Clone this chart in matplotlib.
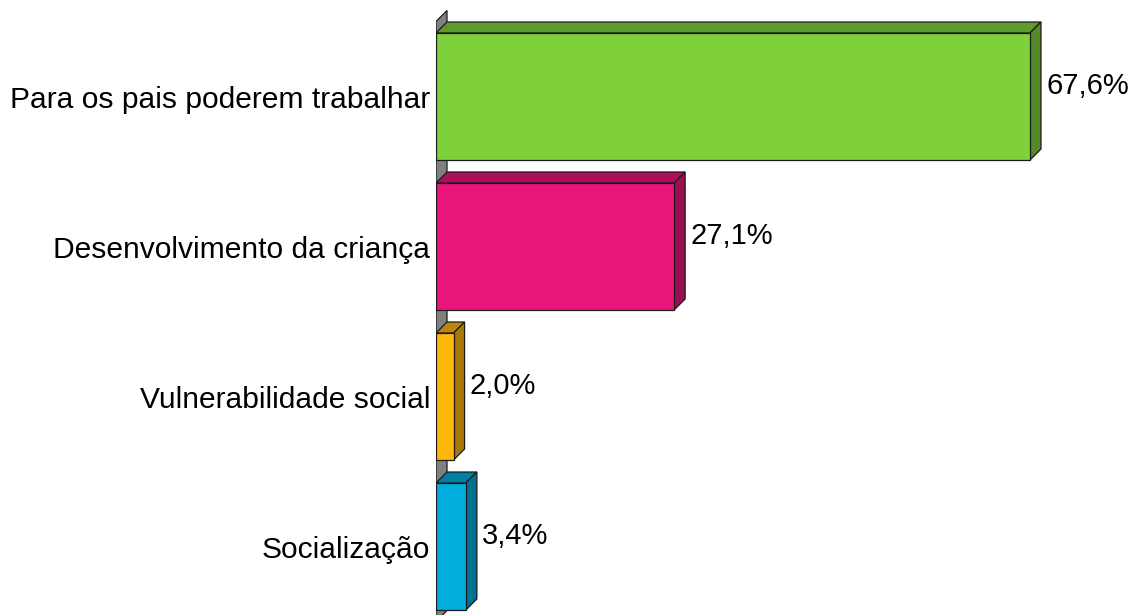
import matplotlib
matplotlib.use("Agg")
import matplotlib.pyplot as plt
from matplotlib.patches import Polygon
from matplotlib.colors import to_rgb

categories = ["Para os pais poderem trabalhar", "Desenvolvimento da criança",
              "Vulnerabilidade social", "Socialização"]
values = [67.6, 27.1, 2.0, 3.4]
value_labels = ["67,6%", "27,1%", "2,0%", "3,4%"]
colors = ["#7FD13B", "#EA157A", "#FEB80A", "#00ADDC"]

plt.rcParams['font.family'] = ['Liberation Sans', 'DejaVu Sans']

W, H = 1133, 615
fig = plt.figure(figsize=(W / 100, H / 100), dpi=100)
left_px = 436
ax = fig.add_axes([left_px / W, 0, 1 - left_px / W, 1])

px_per_unit = 594 / 67.6
px_per_cat = 150
xmax = (W - left_px) / px_per_unit
y0_px = 96.5
ax.set_xlim(0, xmax)
ax.set_ylim((H - y0_px) / px_per_cat, -y0_px / px_per_cat)

dx = 11 / px_per_unit
dy = 11 / px_per_cat
bh = 127 / px_per_cat
n = len(categories)

def shade(c, f):
    r, g, b = to_rgb(c)
    return (r * f, g * f, b * f)

edge = "#1a1a1a"
lw = 0.9

# left wall (grey)
wall = Polygon([(0, -0.5), (dx, -0.5 - dy), (dx, n - 0.5 - dy), (0, n - 0.5)],
               closed=True, facecolor="#808080", edgecolor=edge, lw=lw, zorder=1)
ax.add_patch(wall)

for i, (v, c, lab) in enumerate(zip(values, colors, value_labels)):
    top = i - bh / 2
    bot = i + bh / 2
    # top face
    ax.add_patch(Polygon([(0, top), (v, top), (v + dx, top - dy), (dx, top - dy)],
                         closed=True, facecolor=shade(c, 0.74), edgecolor=edge, lw=lw, zorder=2))
    # side face
    ax.add_patch(Polygon([(v, top), (v + dx, top - dy), (v + dx, bot - dy), (v, bot)],
                         closed=True, facecolor=shade(c, 0.66), edgecolor=edge, lw=lw, zorder=2))
    # front face
    ax.barh(i, v, height=bh, color=c, edgecolor=edge, linewidth=lw, zorder=3)
    ax.text(v + dx + 5 / px_per_unit, i - dy, lab, va="center", ha="left",
            fontsize=21, color="black", zorder=4)

ax.set_yticks(range(n))
ax.set_yticklabels(categories, fontsize=21.6)
ax.tick_params(axis="y", length=0, pad=4)
ax.set_xticks([])
for s in ax.spines.values():
    s.set_visible(False)
ax.patch.set_alpha(0)

fig.savefig("out.png", dpi=100)
